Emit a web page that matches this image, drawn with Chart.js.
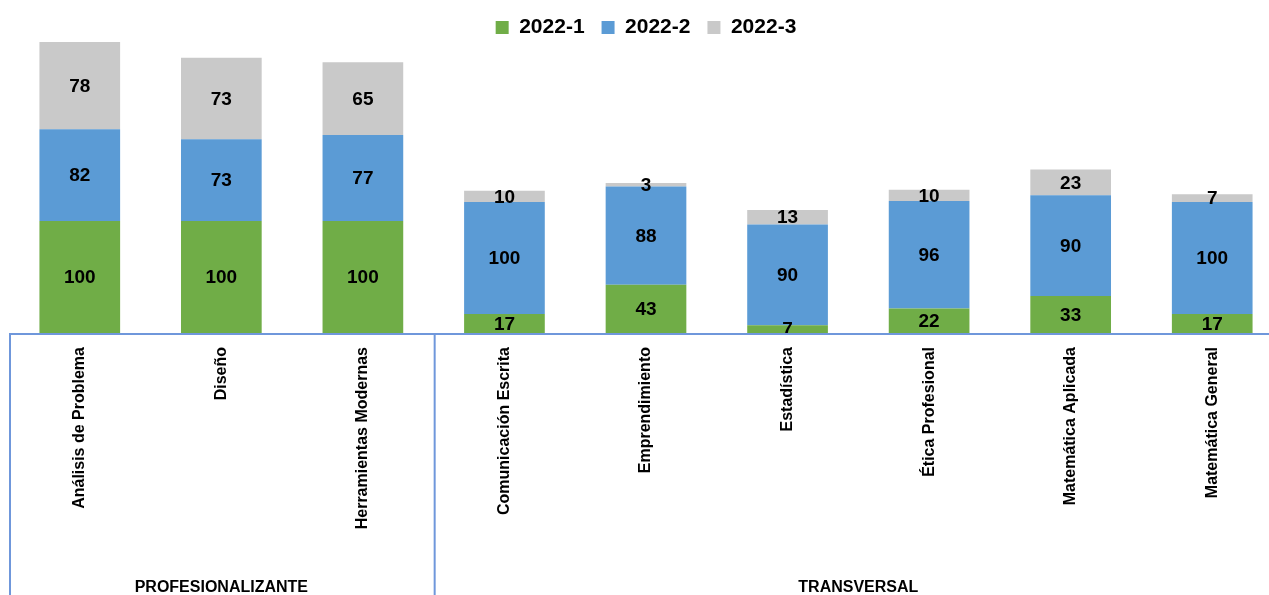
<!DOCTYPE html>
<html lang="es">
<head>
    <meta charset="UTF-8">
    <title>Cursos 2022</title>
    <script src="https://cdn.jsdelivr.net/npm/chart.js"></script>
    <style>
        body {
            margin: 0;
            padding: 0;
            background: #ffffff;
            overflow: hidden;
            font-family: 'Liberation Sans', Arial, sans-serif;
        }
        .chart-box {
            width: 1283px;
            height: 595px;
        }
    </style>
</head>
<body>
    <div class="chart-box">
        <canvas id="cursosChart" width="1283" height="595"></canvas>
    </div>

    <script>
        const categories = [
            "Análisis de Problema", "Diseño", "Herramientas Modernas",
            "Comunicación Escrita", "Emprendimiento", "Estadística",
            "Ética Profesional", "Matemática Aplicada", "Matemática General"
        ];
        const groups = ["PROFESIONALIZANTE", "TRANSVERSAL"];
        const groupSizes = [3, 6];

        const serie2022_1 = [100, 100, 100, 17, 43, 7, 22, 33, 17];
        const serie2022_2 = [82, 73, 77, 100, 88, 90, 96, 90, 100];
        const serie2022_3 = [78, 73, 65, 10, 3, 13, 10, 23, 7];

        const lineColor = "#6f97db";
        const font = "'Liberation Sans', Arial, sans-serif";

        // keep the legend band a fixed height so the plot starts where the original does
        const legendHeight = {
            id: "legendHeight",
            beforeLayout(chart) {
                const legend = chart.legend;
                if (!legend || legend._fixed) return;
                const fit = legend.fit;
                legend.fit = function () {
                    fit.call(this);
                    this.height = 42;
                };
                legend._fixed = true;
            }
        };

        // value labels centred in each segment
        const valueLabels = {
            id: "valueLabels",
            afterDatasetsDraw(chart) {
                const ctx = chart.ctx;
                ctx.save();
                ctx.font = "bold 19px " + font;
                ctx.fillStyle = "#000000";
                ctx.textAlign = "center";
                ctx.textBaseline = "middle";
                chart.data.datasets.forEach((ds, i) => {
                    chart.getDatasetMeta(i).data.forEach((bar, j) => {
                        ctx.fillText(ds.data[j], bar.x, (bar.y + bar.base) / 2 + 1);
                    });
                });
                ctx.restore();
            }
        };

        // group boxes and group names under the category labels
        const groupAxis = {
            id: "groupAxis",
            afterDraw(chart) {
                const ctx = chart.ctx;
                const x = chart.scales.x;
                const area = chart.chartArea;
                const half = (x.getPixelForValue(1) - x.getPixelForValue(0)) / 2;
                ctx.save();
                ctx.strokeStyle = lineColor;
                ctx.lineWidth = 2;
                ctx.font = "bold 16px " + font;
                ctx.fillStyle = "#000000";
                ctx.textAlign = "center";
                ctx.textBaseline = "middle";
                let start = 0;
                groups.forEach((name, g) => {
                    const end = start + groupSizes[g] - 1;
                    const left = x.getPixelForValue(start) - half;
                    const right = x.getPixelForValue(end) + half;
                    ctx.beginPath();
                    ctx.moveTo(left + 1, area.bottom);
                    ctx.lineTo(left + 1, chart.height);
                    ctx.stroke();
                    ctx.fillText(name, (left + right) / 2, 588);
                    start = end + 1;
                });
                ctx.beginPath();
                ctx.moveTo(area.left, area.bottom + 1);
                ctx.lineTo(chart.width, area.bottom + 1);
                ctx.stroke();
                ctx.restore();
            }
        };

        new Chart(document.getElementById("cursosChart"), {
            type: "bar",
            data: {
                labels: categories,
                datasets: [
                    { label: "2022-1", data: serie2022_1, backgroundColor: "#70ad47" },
                    { label: "2022-2", data: serie2022_2, backgroundColor: "#5b9bd5" },
                    { label: "2022-3", data: serie2022_3, backgroundColor: "#c9c9c9" }
                ]
            },
            options: {
                responsive: false,
                animation: false,
                devicePixelRatio: 1,
                barPercentage: 0.57,
                categoryPercentage: 1,
                layout: { padding: { left: 9, right: 0, top: 0, bottom: 0 } },
                plugins: {
                    tooltip: { enabled: false },
                    legend: {
                        position: "top",
                        labels: {
                            color: "#000000",
                            font: { family: font, size: 21, weight: "bold" },
                            boxWidth: 13,
                            boxHeight: 13,
                            padding: 17
                        }
                    }
                },
                scales: {
                    x: {
                        stacked: true,
                        grid: { display: false },
                        border: { display: false },
                        ticks: {
                            color: "#000000",
                            font: { family: font, size: 16, weight: "bold" },
                            minRotation: 90,
                            maxRotation: 90,
                            padding: 6
                        },
                        afterFit(scale) { scale.height = 262; }
                    },
                    y: {
                        stacked: true,
                        display: false,
                        min: 0,
                        max: 260
                    }
                }
            },
            plugins: [legendHeight, valueLabels, groupAxis]
        });
    </script>
</body>
</html>
